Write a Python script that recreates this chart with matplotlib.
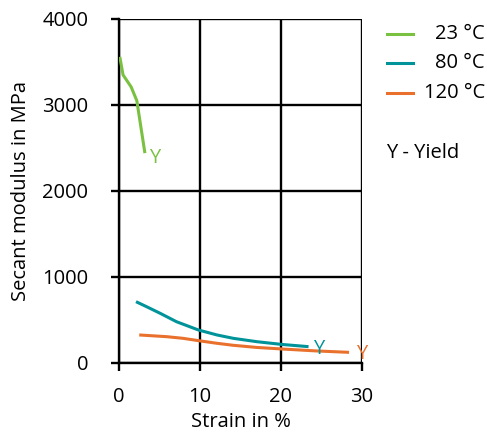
import matplotlib
matplotlib.use("Agg")
import matplotlib.pyplot as plt
from matplotlib.lines import Line2D

plt.rcParams['font.family'] = ['Open Sans', 'DejaVu Sans']

# donnees
strain_23 = [0.1, 0.5, 1.5, 2.2, 3.2]
modulus_23 = [3560, 3350, 3210, 3050, 2440]

strain_80 = [2.1, 3.4, 5.1, 7.1, 9.8, 12.1, 14.1, 17.0, 20.1, 23.4]
modulus_80 = [713, 655, 577, 480, 384, 326, 287, 248, 216, 190]

strain_120 = [2.5, 5.9, 7.9, 9.8, 12.1, 14.1, 17.0, 20.1, 24.4, 28.4]
modulus_120 = [326, 306, 287, 260, 229, 206, 181, 163, 140, 124]

yield_pts = [(4.4, 2380, "Y"), (24.7, 160, "Y"), (29.9, 110, "Y")]

labels = ["23 °C", "80 °C", "120 °C"]
colors = ["#7AC142", "#00939A", "#E9712D"]
x_ticks = [0, 10, 20, 30]
y_ticks = [0, 1000, 2000, 3000, 4000]

fs = 14.5

fig = plt.figure(figsize=(4.87, 4.34), dpi=100)
ax = fig.add_axes([119/487, 71/434, 243/487, 344/434])

series = [(strain_23, modulus_23), (strain_80, modulus_80), (strain_120, modulus_120)]
for (x, y), c in zip(series, colors):
    ax.plot(x, y, color=c, lw=2.2, solid_capstyle='butt', zorder=3)

for (xs, ys, t), c in zip(yield_pts, colors):
    ax.text(xs, ys, t, color=c, fontsize=fs, ha='center', va='center', zorder=4)

ax.set_xlim(0, 30)
ax.set_ylim(0, 4000)
ax.set_xticks(x_ticks)
ax.set_yticks(y_ticks)
ax.grid(True, color='black', lw=1.7)
for s in ['top', 'right']:
    ax.spines[s].set_visible(False)
for s in ['left', 'bottom']:
    ax.spines[s].set_linewidth(1.7)
ax.tick_params(direction='out', length=6, width=1.7, labelsize=fs)
ax.tick_params(axis='x', pad=11)
ax.tick_params(axis='y', pad=16)
ax.set_xlabel("Strain in %", fontsize=fs, labelpad=4)
ax.set_ylabel("Secant modulus in MPa", fontsize=fs, labelpad=8)

# legende a la main, etiquettes alignees a droite
leg_y = [434 - 34, 434 - 63, 434 - 93]
for yy, c, lab in zip(leg_y, colors, labels):
    fig.add_artist(Line2D([387/487, 413/487], [yy/434, yy/434], color=c, lw=2.2))
    fig.text(485/487, yy/434, lab, ha='right', va='center', fontsize=fs)
fig.text(386/487, (434 - 153)/434, "Y - Yield", ha='left', va='center', fontsize=fs)

fig.savefig("out.png", dpi=100)
